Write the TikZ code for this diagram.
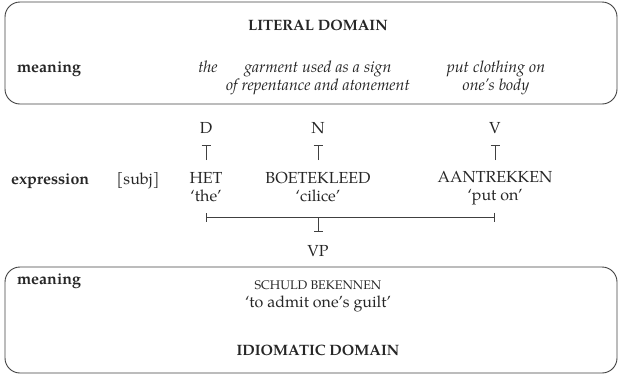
\documentclass[tikz,border=0pt]{standalone}
\usepackage{fontspec}
\setmainfont{texgyrepagella}[Extension=.otf,UprightFont=*-regular,BoldFont=*-bold,ItalicFont=*-italic,BoldItalicFont=*-bolditalic]
\usetikzlibrary{arrows.meta}
\begin{document}
\begin{tikzpicture}[x=1pt,y=-1pt,
  every node/.style={inner sep=0pt, outer sep=0pt, text=black!85},
  txt/.style={anchor=base, align=center, font=\fontsize{16}{18}\selectfont},
  lbl/.style={anchor=base west, font=\fontsize{16}{18}\selectfont\bfseries},
  ttl/.style={anchor=base, font=\fontsize{15}{18}\selectfont\bfseries},
  domainbox/.style={draw=black!75, line width=0.9pt, rounded corners=15pt},
  link/.style={draw=black!75, line width=0.8pt},
  tee/.style={link, -{Bar[width=9pt,line width=0.8pt]}}
]
\useasboundingbox (0,0) rectangle (621,376);
% boxes
\draw[domainbox] (5,2) rectangle (617,104);
\draw[domainbox] (5,267) rectangle (617,373);
% literal domain
\node[ttl] (lit) at (318,30) {LITERAL DOMAIN};
\node[lbl] (m1) at (17,72) {meaning};
\node[txt, font=\fontsize{16}{18}\selectfont\itshape] (mthe) at (208,72) {the};
\node[txt, font=\fontsize{16}{18}\selectfont\itshape] (mgar) at (318,90) {garment used as a sign\\of repentance and atonement};
\node[txt, font=\fontsize{16}{18}\selectfont\itshape] (mput) at (496,90) {put clothing on\\one’s body};
% categories
\node[txt] (D) at (206,133) {D};
\node[txt] (N) at (318,133) {N};
\node[txt] (V) at (495,133) {V};
% expression row
\node[lbl] (ex) at (11,184) {expression};
\node[txt] (subj) at (138,184) {[subj]};
\node[txt] (het) at (206,201) {HET\\‘the’};
\node[txt] (boe) at (318,201) {BOETEKLEED\\‘cilice’};
\node[txt] (aan) at (495,200) {AANTREKKEN\\‘put on’};
\node[txt] (vp) at (318,256) {VP};
% idiomatic domain
\node[lbl] (m2) at (17,284) {meaning};
\node[txt] (sch) at (318,307) {{\fontsize{12.5}{18}\selectfont SCHULD BEKENNEN}\\‘to admit one’s guilt’};
\node[ttl] (idi) at (318,355) {IDIOMATIC DOMAIN};
% connector coordinates
\coordinate (dT) at (206,145); \coordinate (dB) at (206,160);
\coordinate (nT) at (318,145); \coordinate (nB) at (318,160);
\coordinate (vT) at (495,145); \coordinate (vB) at (495,160);
\coordinate (hl) at (206,217); \coordinate (hr) at (495,217);
\coordinate (hm) at (318,217); \coordinate (hb) at (318,232);
\draw[tee] (dB) -- (dT);
\draw[tee] (nB) -- (nT);
\draw[tee] (vB) -- (vT);
\draw[link, {Bar[width=9pt,line width=0.8pt]}-{Bar[width=9pt,line width=0.8pt]}] (hl) -- (hr);
\draw[tee] (hm) -- (hb);
\end{tikzpicture}
\end{document}
